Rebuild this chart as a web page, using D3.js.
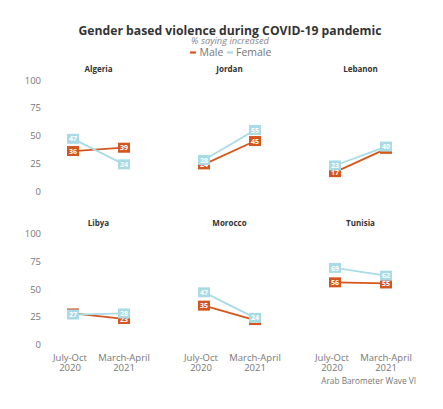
<!DOCTYPE html>
<html>
<head>
<meta charset="utf-8">
<script src="https://cdn.jsdelivr.net/npm/d3@7"></script>
<style>
  html, body { margin: 0; padding: 0; background: #fff; }
  svg { display: block; font-family: "Open Sans", "Noto Sans", sans-serif; }
</style>
</head>
<body>
<svg id="chart" width="443" height="409"></svg>
<script>
// ---- data ----
const countries = ["Algeria", "Jordan", "Lebanon", "Libya", "Morocco", "Tunisia"];
const periods = ["July-Oct 2020", "March-April 2021"];
const periodLines = [["July-Oct", "2020"], ["March-April", "2021"]];
const maleValues = [[36, 39], [24, 45], [17, 38], [28, 23], [35, 22], [56, 55]];
const femaleValues = [[47, 24], [28, 55], [23, 40], [27, 28], [47, 24], [69, 62]];
const yTicks = [0, 25, 50, 75, 100];
const seriesNames = ["Male", "Female"];
const seriesColors = ["#d4561d", "#a9dbe6"];

// ---- layout ----
const svg = d3.select("#chart");
const colX0 = 73, colStep = 131, pairGap = 51;
const rowBottoms = [191, 344.5], rowTops = [80, 233.5];

svg.append("text").attr("x", 230).attr("y", 35).attr("text-anchor", "middle")
  .attr("font-size", 12.2).attr("font-weight", 700).attr("fill", "#333")
  .text("Gender based violence during COVID-19 pandemic");
svg.append("text").attr("x", 230).attr("y", 44).attr("text-anchor", "middle")
  .attr("font-size", 9.3).attr("font-style", "italic").attr("fill", "#888")
  .text("% saying increased");

// legend
const leg = svg.append("g");
const legItems = [{x: 190, w: 6, tx: 199.5}, {x: 227, w: 6, tx: 236}];
legItems.forEach((it, i) => {
  leg.append("line").attr("x1", it.x).attr("x2", it.x + it.w).attr("y1", 52.5).attr("y2", 52.5)
    .attr("stroke", seriesColors[i]).attr("stroke-width", 2.2);
  leg.append("text").attr("x", it.tx).attr("y", 56).attr("font-size", 10.5).attr("fill", "#777")
    .text(seriesNames[i]);
});

countries.forEach((c, ci) => {
  const row = Math.floor(ci / 3), col = ci % 3;
  const x = d3.scalePoint().domain(periods).range([colX0 + colStep * col, colX0 + colStep * col + pairGap]);
  const y = d3.scaleLinear().domain([0, 100]).range([rowBottoms[row], rowTops[row]]);
  const g = svg.append("g");

  // panel title
  g.append("text").attr("x", 98.5 + colStep * col).attr("y", rowTops[row] - 8)
    .attr("text-anchor", "middle").attr("font-size", 8).attr("font-weight", 700).attr("fill", "#333")
    .text(c);

  // y axis only in first column
  if (col === 0) {
    const ax = d3.axisLeft(y).tickValues(yTicks).tickSize(0).tickPadding(0);
    const axg = g.append("g").attr("transform", "translate(41,0)").call(ax);
    axg.select(".domain").remove();
    axg.selectAll("text").attr("font-size", 9.5).attr("fill", "#777")
      .attr("font-family", "Open Sans, Noto Sans, sans-serif");
  }

  // x axis labels only bottom row
  if (row === 1) {
    periods.forEach((p, pi) => {
      const lx = x(p) - (pi === 0 ? 3 : 0);
      const t = g.append("text").attr("x", lx).attr("y", 361)
        .attr("text-anchor", "middle").attr("font-size", 9.5).attr("fill", "#777");
      t.append("tspan").attr("x", lx).attr("dy", 0).text(periodLines[pi][0]);
      t.append("tspan").attr("x", lx).attr("dy", 9.5).text(periodLines[pi][1]);
    });
  }

  const series = [maleValues[ci], femaleValues[ci]];
  series.forEach((vals, si) => {
    const pts = periods.map((p, pi) => ({p, v: vals[pi]}));
    const line = d3.line().x(d => x(d.p)).y(d => y(d.v));
    g.append("path").datum(pts).attr("d", line).attr("fill", "none")
      .attr("stroke", seriesColors[si]).attr("stroke-width", 1.8);
    const bw = 12, bh = 10;
    const pg = g.selectAll(null).data(pts).enter().append("g");
    pg.append("rect").attr("x", d => x(d.p) - bw / 2).attr("y", d => y(d.v) - bh / 2)
      .attr("width", bw).attr("height", bh).attr("fill", seriesColors[si]);
    pg.append("text").attr("x", d => x(d.p)).attr("y", d => y(d.v) + 2.6)
      .attr("text-anchor", "middle").attr("font-size", 7).attr("font-weight", 700).attr("fill", "#fff")
      .text(d => d.v);
  });
});

svg.append("text").attr("x", 416).attr("y", 384).attr("text-anchor", "end")
  .attr("font-size", 8.3).attr("fill", "#777").text("Arab Barometer Wave VI");
</script>
</body>
</html>
